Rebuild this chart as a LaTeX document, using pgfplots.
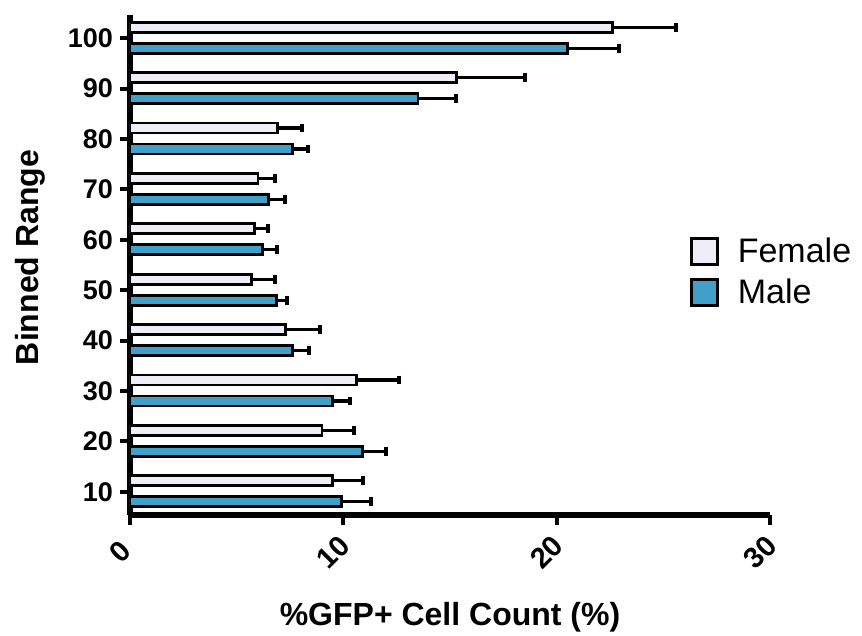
\documentclass[border=0pt]{standalone}
\usepackage{fontspec}
\setmainfont{Liberation Sans}
\usepackage{pgfplots}
\pgfplotsset{compat=1.18}

\definecolor{femfill}{HTML}{EFEEF6}
\definecolor{malefill}{HTML}{40A0C8}

% bin, mean, +SD
\pgfplotstableread{
bin  fem  femerr  male  maleerr
10   9.5  1.4     9.9   1.4
20   9.0  1.5     10.9  1.1
30   10.6 2.0     9.5   0.8
40   7.3  1.6     7.6   0.8
50   5.7  1.1     6.85  0.5
60   5.85 0.6     6.2   0.7
70   6.0  0.8     6.5   0.75
80   6.9  1.15    7.6   0.75
90   15.3 3.2     13.5  1.8
100  22.6 3.0     20.5  2.4
}\bins

\begin{document}
\begin{tikzpicture}
\begin{axis}[
    at={(0,0)}, anchor=south west,
    scale only axis,
    width=320pt, height=250pt,
    xbar,
    bar width=5pt,
    xmin=0, xmax=30,
    ymin=5.4, ymax=104.6,
    xtick={0,10,20,30},
    ytick={10,20,...,100},
    axis x line=bottom,
    axis y line=left,
    axis line style={-, line width=3.3pt, black},
    tick align=outside,
    major tick length=5pt,
    tick style={line width=2pt, black},
    /pgf/number format/assume math mode=true,
    tick label style={font=\fontsize{13.5}{16}\selectfont\bfseries},
    xticklabel style={anchor=center, xshift=-5pt, yshift=-13.5pt, rotate=45,
        font=\fontsize{14.5}{16}\selectfont\bfseries},
    xlabel={\%GFP+ Cell Count (\%)},
    ylabel={Binned Range},
    every axis x label/.style={at={(rel axis cs:0.5,0)}, anchor=center, yshift=-51pt,
        font=\fontsize{16}{19}\selectfont\bfseries},
    every axis y label/.style={at={(rel axis cs:0,0.515)}, anchor=center, xshift=-50pt, rotate=90,
        font=\fontsize{16}{19}\selectfont\bfseries},
    legend style={at={(rel axis cs:0.875,0.486)}, anchor=west, draw=none, fill=none,
        font=\fontsize{17}{20}\selectfont, row sep=3pt, inner sep=0pt},
    legend cell align=left,
    legend image code/.code={\draw[#1, line width=1.4pt] (0pt,-6.5pt) rectangle (13pt,6.5pt);
        \path[draw=none, fill=none] (13pt,0pt) rectangle (21pt,0.1pt);},
    error bars/error bar style={line width=1.6pt, black},
    error bars/error mark options={line width=2pt, mark size=2.2pt, rotate=90, black},
]
\addplot[draw=black, line width=1.4pt, fill=femfill, bar shift=5.5pt,
    error bars/.cd, x dir=plus, x explicit]
    table[x=fem, y=bin, x error=femerr] {\bins};
\addlegendentry{Female}
\addplot[draw=black, line width=1.4pt, fill=malefill, bar shift=-5pt,
    error bars/.cd, x dir=plus, x explicit]
    table[x=male, y=bin, x error=maleerr] {\bins};
\addlegendentry{Male}
\end{axis}
\pgfresetboundingbox
\path (-65pt,-60.5pt) rectangle (366pt,257.5pt);
\end{tikzpicture}
\end{document}
